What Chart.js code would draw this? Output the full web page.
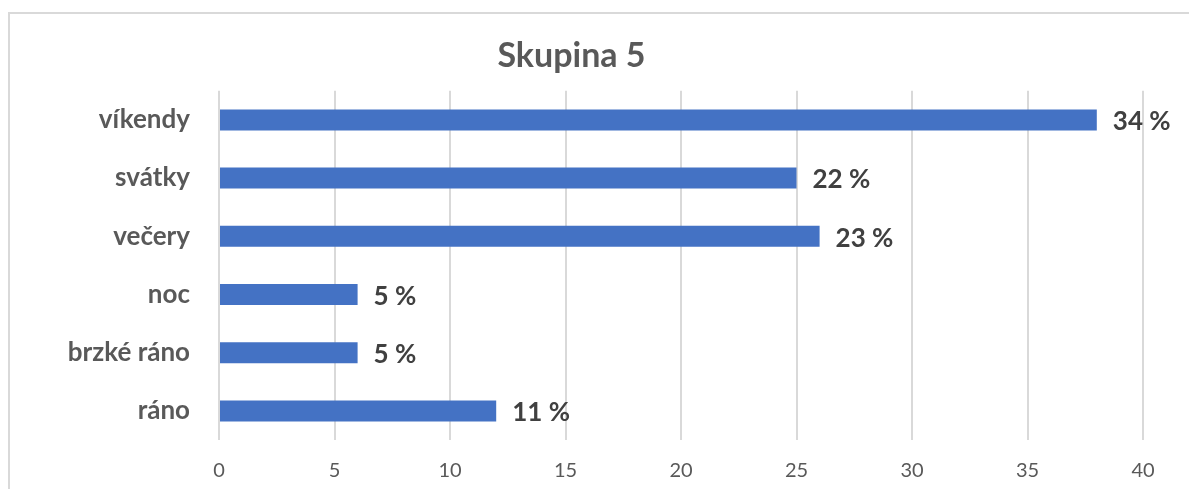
<!DOCTYPE html>
<html lang="cs">
<head>
    <meta charset="UTF-8">
    <title>Skupina 5</title>
    <script src="https://cdn.jsdelivr.net/npm/chart.js"></script>
    <style>
        html, body {
            margin: 0;
            padding: 0;
            background: #ffffff;
            overflow: hidden;
        }
        .frame {
            position: absolute;
            left: 8px;
            top: 12px;
            width: 1300px;
            height: 600px;
            border-left: 2px solid #d9d9d9;
            border-top: 2px solid #d9d9d9;
        }
        .wrap {
            position: absolute;
            left: 0;
            top: 0;
            width: 1189px;
            height: 489px;
        }
    </style>
</head>
<body>
    <div class="frame"></div>
    <div class="wrap"><canvas id="chart"></canvas></div>

    <script>
        const categories = ['víkendy', 'svátky', 'večery', 'noc', 'brzké ráno', 'ráno'];
        const values = [38, 25, 26, 6, 6, 12];
        const percentLabels = ['34 %', '22 %', '23 %', '5 %', '5 %', '11 %'];
        const xTicks = [0, 5, 10, 15, 20, 25, 30, 35, 40];

        const fontFamily = 'Lato, "Open Sans", sans-serif';

        // draws the "34 %" style labels after the bar ends
        const valueLabels = {
            id: 'valueLabels',
            afterDatasetsDraw(chart) {
                const ctx = chart.ctx;
                const meta = chart.getDatasetMeta(0);
                ctx.save();
                ctx.font = 'bold 26px ' + fontFamily;
                ctx.fillStyle = '#404040';
                ctx.textAlign = 'left';
                ctx.textBaseline = 'middle';
                meta.data.forEach((bar, i) => {
                    ctx.fillText(percentLabels[i], bar.x + 16, bar.y + 2);
                });
                ctx.restore();
            }
        };

        new Chart(document.getElementById('chart'), {
            type: 'bar',
            data: {
                labels: categories,
                datasets: [{
                    data: values,
                    backgroundColor: '#4472c4',
                    borderWidth: 0,
                    categoryPercentage: 1,
                    barPercentage: 0.36
                }]
            },
            options: {
                indexAxis: 'y',
                responsive: true,
                maintainAspectRatio: false,
                animation: false,
                layout: { padding: { left: 0, right: 46, top: 0, bottom: 0 } },
                plugins: {
                    legend: { display: false },
                    tooltip: { enabled: false },
                    title: {
                        display: true,
                        text: 'Skupina 5',
                        color: '#595959',
                        font: { family: fontFamily, size: 34, weight: 'bold' },
                        padding: { top: 36, bottom: 14 }
                    }
                },
                scales: {
                    x: {
                        min: 0,
                        max: 40,
                        afterBuildTicks(axis) {
                            axis.ticks = xTicks.map(v => ({ value: v }));
                        },
                        afterFit(axis) { axis.height = 49; },
                        grid: { color: '#d9d9d9', lineWidth: 2, drawTicks: false },
                        border: { display: false },
                        ticks: {
                            padding: 19,
                            color: '#595959',
                            font: { family: fontFamily, size: 20 }
                        }
                    },
                    y: {
                        afterFit(axis) { axis.width = 219; },
                        grid: { display: false, drawTicks: false },
                        border: { display: false },
                        ticks: {
                            padding: 29,
                            color: '#595959',
                            font: { family: fontFamily, size: 26, weight: 'bold' }
                        }
                    }
                }
            },
            plugins: [valueLabels]
        });
    </script>
</body>
</html>
